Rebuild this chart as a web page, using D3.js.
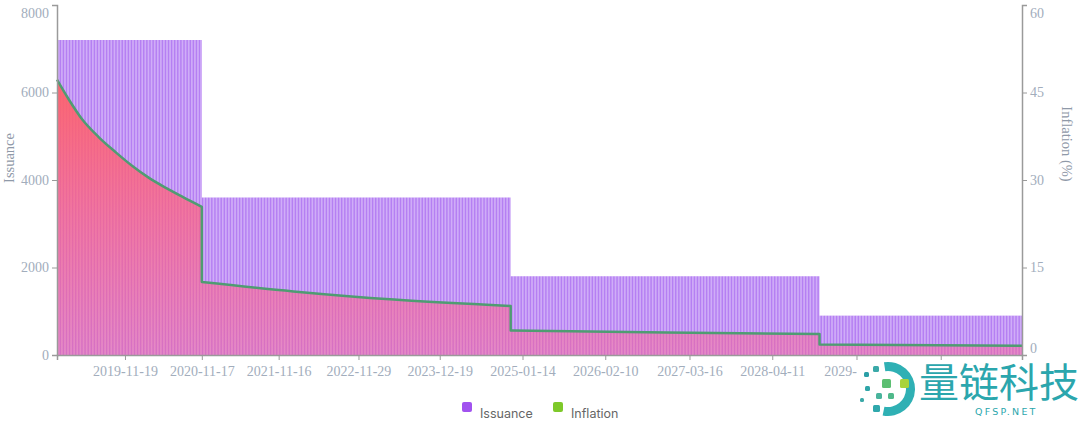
<!DOCTYPE html>
<html><head><meta charset="utf-8">
<script src="https://cdn.jsdelivr.net/npm/d3@7"></script>
<style>body{margin:0;background:#fff} svg{display:block}</style>
</head><body><svg id="c" width="1080" height="421"></svg>
<script>
// ---- data ----
const periodStarts = ["2019-01-01", "2020-11-17", "2024-11-19", "2028-11-21"];
const periodIssuance = [7200, 3600, 1800, 900];
const firstWeek = "2019-01-01";
const lastWeek = "2031-07-01";
// a repeated date marks a step (halving) in the inflation line
const inflationDates = ["2019-01-01","2019-02-26","2019-04-30","2019-07-16","2019-10-08","2019-12-24","2020-03-10","2020-06-02","2020-08-18","2020-11-17",
  "2020-11-17","2022-01-25","2023-05-16","2024-11-19",
  "2024-11-19","2026-11-24","2028-11-21",
  "2028-11-21","2031-07-08"];
const inflationValues = [47.2,43.8,40.4,37.4,34.7,32.4,30.4,28.6,27.1,25.4,
  12.5,10.9,9.5,8.4,
  4.2,3.85,3.6,
  1.8,1.6];
const xTickLabels = ["2019-11-19","2020-11-17","2021-11-16","2022-11-29","2023-12-19","2025-01-14","2026-02-10","2027-03-16","2028-04-11","2029-05-15","2030-06-18"];
const leftTicks = [0, 2000, 4000, 6000, 8000];
const rightTicks = [0, 15, 30, 45, 60];

// ---- setup ----
const svg = d3.select("#c");
const parse = d3.utcParse("%Y-%m-%d");
const fmt = d3.utcFormat("%Y-%m-%d");
const L = 57, R = 1022, T = 5, B = 355;
const week = 7 * 864e5;
const weeks = d3.utcDay.range(parse(firstWeek), new Date(+parse(lastWeek) + 1), 7);
const x = d3.scaleUtc()
  .domain([parse(firstWeek), new Date(+parse(lastWeek) + week)])
  .range([L, R]);
const yL = d3.scaleLinear().domain([0, 8000]).range([B, T]);
const yR = d3.scaleLinear().domain([0, 60]).range([B, T]);
const starts = periodStarts.map(parse);
const issuanceFor = d => periodIssuance[d3.bisectRight(starts, d) - 1];
const barData = weeks.map(d => ({date: d, value: issuanceFor(d)}));

// ---- bars ----
const bw = x(new Date(+weeks[0] + week)) - x(weeks[0]);
svg.append("g").selectAll("rect").data(barData).join("rect")
  .attr("x", d => x(d.date))
  .attr("width", bw * 0.86)
  .attr("y", d => yL(d.value))
  .attr("height", d => B - yL(d.value))
  .attr("fill", "#b57ff3");

// ---- inflation area + line ----
const infl = inflationDates.map((d, i) => ({date: parse(d), value: inflationValues[i]}));
const segments = [];
infl.forEach((p, i) => {
  if (i === 0 || +p.date === +infl[i - 1].date) segments.push([]);
  segments[segments.length - 1].push(p);
});
const lineGen = d3.line().x(d => x(d.date)).y(d => yR(d.value)).curve(d3.curveMonotoneX);
const linePath = segments.map((s, i) => i === 0 ? lineGen(s) : lineGen(s).replace(/^M/, "L")).join("");
const areaPath = linePath + `L${x(infl[infl.length - 1].date)},${B}L${x(infl[0].date)},${B}Z`;

const defs = svg.append("defs");
const g = defs.append("linearGradient").attr("id", "ag")
  .attr("gradientUnits", "userSpaceOnUse").attr("x1", 0).attr("x2", 0).attr("y1", 80).attr("y2", B);
g.append("stop").attr("offset", 0).attr("stop-color", "rgb(255,96,100)").attr("stop-opacity", 0.93);
g.append("stop").attr("offset", 0.5).attr("stop-color", "rgb(255,96,125)").attr("stop-opacity", 0.7);
g.append("stop").attr("offset", 1).attr("stop-color", "rgb(255,96,140)").attr("stop-opacity", 0.45);

svg.append("path").attr("d", areaPath).attr("fill", "url(#ag)");
svg.append("path").attr("d", linePath)
  .attr("fill", "none").attr("stroke", "#4f9c72").attr("stroke-width", 2.5).attr("stroke-linejoin", "round");

// ---- axes ----
const axisColor = "#9a9a9a", textColor = "#a2adbc";
function styleAxis(sel) {
  sel.selectAll(".domain").attr("stroke", axisColor).attr("stroke-width", 1.5);
  sel.selectAll(".tick line").attr("stroke", axisColor);
  sel.selectAll("text").attr("fill", textColor).attr("font-family", "Liberation Serif, serif").attr("font-size", 14);
}
svg.append("g").attr("transform", `translate(0,${B})`)
  .call(d3.axisBottom(x).tickValues(xTickLabels.map(parse)).tickFormat(fmt).tickSizeOuter(0).tickSize(5).tickPadding(6))
  .call(styleAxis);
const gl = svg.append("g").attr("transform", `translate(${L},0)`)
  .call(d3.axisLeft(yL).tickValues(leftTicks).tickFormat(d3.format("d")).tickSize(5).tickSizeOuter(5).tickPadding(3))
  .call(styleAxis);
gl.selectAll(".tick text").filter(d => d === 8000).attr("dy", "0.9em");
const gr = svg.append("g").attr("transform", `translate(${R},0)`)
  .call(d3.axisRight(yR).tickValues(rightTicks).tickSize(5).tickSizeOuter(5).tickPadding(3))
  .call(styleAxis);
gr.selectAll(".tick text").filter(d => d === 60).attr("dy", "0.9em");
gr.selectAll(".tick text").filter(d => d === 0).attr("dy", "-0.2em");

svg.append("text").attr("transform", "translate(14,158) rotate(-90)").attr("text-anchor", "middle")
  .attr("font-family", "Liberation Serif, serif").attr("font-size", 14.5).attr("fill", "#8f99a8").text("Issuance");
svg.append("text").attr("transform", "translate(1062,144) rotate(90)").attr("text-anchor", "middle")
  .attr("font-family", "Liberation Serif, serif").attr("font-size", 14.5).attr("fill", "#8f99a8").text("Inflation (%)");

// ---- legend ----
const legend = [{name: "Issuance", color: "#a152ef", x: 462}, {name: "Inflation", color: "#7ec92a", x: 553}];
const lg = svg.append("g").selectAll("g").data(legend).join("g");
lg.append("rect").attr("x", d => d.x).attr("y", 402).attr("width", 10).attr("height", 10).attr("rx", 2).attr("fill", d => d.color);
lg.append("text").attr("x", d => d.x + 18).attr("y", 418).text(d => d.name)
  .attr("font-family", "Inter, Roboto, sans-serif").attr("font-size", 12.5).attr("fill", "#666");

// ---- watermark ----
const wm = svg.append("g");
wm.append("rect").attr("x", 857).attr("y", 361).attr("width", 223).attr("height", 60).attr("fill", "#fff");
wm.append("path").attr("transform", "translate(888,389)")
  .attr("d", d3.arc().innerRadius(18).outerRadius(27).startAngle(-0.15).endAngle(Math.PI + 0.2)())
  .attr("fill", "#2fb0b4");
const sq = [[864,372,5,"#2a9fa6"],[873,366,6,"#3aa9a8"],[882,379,9,"#5cbf72"],[900,379,9,"#a9d33b"],[865,386,5,"#2fa5a8"],[876,393,6,"#49b49c"],[888,393,6,"#4fb98a"],[873,405,7,"#2fa8ac"],[860,398,4,"#3aa9a8"]];
wm.selectAll(".sq").data(sq).join("rect").attr("class", "sq")
  .attr("x", d => d[0]).attr("y", d => d[1]).attr("width", d => d[2]).attr("height", d => d[2]).attr("rx", 1.5).attr("fill", d => d[3]);
wm.append("text").attr("x", 919).attr("y", 397).text("量链科技")
  .attr("font-family", "Noto Sans CJK SC").attr("font-size", 40).attr("fill", "#2ba6ad");
wm.append("text").attr("x", 975).attr("y", 415).text("QFSP.NET")
  .attr("font-family", "DejaVu Sans, sans-serif").attr("font-size", 9.5).attr("letter-spacing", 2.2).attr("fill", "#2ba6ad");
</script></body></html>
